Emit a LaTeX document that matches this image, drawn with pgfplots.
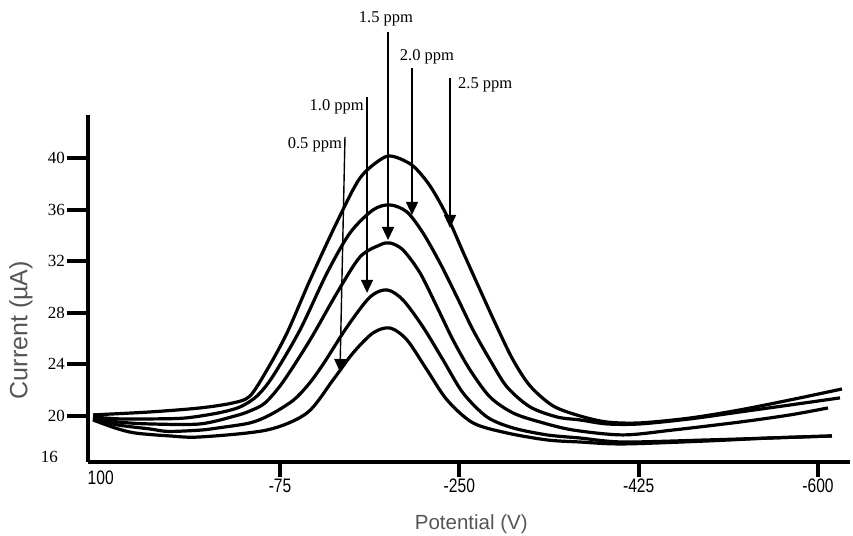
\documentclass[border=0pt]{standalone}
\usepackage{fontspec}
\usepackage{pgfplots}
\pgfplotsset{compat=1.18}
\usetikzlibrary{arrows.meta}
\setmainfont{Liberation Serif}
\newfontfamily\lsans{Liberation Sans}
\newfontfamily\nsans[FakeStretch=0.8]{Liberation Sans}
\definecolor{labgray}{HTML}{555555}

\begin{document}
\begin{tikzpicture}
\useasboundingbox (-88bp,-74bp) rectangle (765bp,462bp);
\begin{axis}[
  at={(0,0)}, anchor=south west,
  scale only axis, width=762bp, height=347bp,
  x dir=reverse,
  xmin=-631.2, xmax=112.4, ymin=16.43, ymax=43.33,
  axis x line*=bottom, axis y line*=left,
  axis line style={line width=3.4bp,-},
  clip=false,
  tick align=outside,
  major tick length=15bp,
  /pgf/number format/assume math mode=true,
  xtick={-75,-250,-425,-600},
  xtick style={draw=black,line width=4bp},
  extra x ticks={100},
  extra x tick style={major tick length=0bp, xtick style={draw=none},
    xticklabel style={yshift=-7bp}},
  xticklabel style={font=\nsans\fontsize{19.5bp}{22bp}\selectfont, inner sep=2bp},
  ytick=\empty,
  extra y ticks={20,24,28,32,36,40},
  extra y tick style={major tick length=21bp, ytick style={draw=black,line width=4bp}},
  yticklabel style={font=\fontsize{17bp}{20bp}\selectfont, inner sep=2bp},
  xlabel={Potential (V)},
  ylabel={Current (\textmu A)},
  every axis x label/.style={at={(axis description cs:0.503,-0.178)}, anchor=center,
    font=\lsans\fontsize{20.5bp}{24bp}\selectfont, text=labgray},
  every axis y label/.style={at={(axis description cs:-0.088,0.38)}, anchor=center, rotate=90,
    font=\lsans\fontsize{25bp}{28bp}\selectfont, text=labgray},
]
% 2.5 ppm
\addplot[smooth, black, line width=3.2bp] coordinates {
(107.5,20.08) (51.9,20.31) (3.1,20.62) (-29.1,21.01) (-45.7,21.55) (-62.3,23.57)
(-81.8,26.43) (-104.3,30.54) (-130.6,35.04) (-153.1,38.45) (-175.5,40.0) (-187.2,40.08)
(-204.8,39.38) (-221.4,37.83) (-238.0,35.50) (-253.6,32.71) (-270.2,29.77) (-286.7,26.90)
(-302.4,24.34) (-319.0,22.33) (-341.4,20.78) (-367.7,20.0) (-394.1,19.53) (-426.3,19.46)
(-475.1,19.84) (-523.9,20.47) (-572.7,21.24) (-623.4,22.09)};
% 2.0 ppm
\addplot[smooth, black, line width=3.2bp] coordinates {
(107.5,19.92) (81.1,19.77) (49.9,19.77) (17.7,19.84) (-14.5,20.23) (-36.0,20.70)
(-52.6,21.55) (-68.2,23.10) (-94.5,26.67) (-120.9,31.09) (-143.3,34.19) (-165.7,35.97)
(-182.3,36.36) (-198.9,35.81) (-214.5,34.19) (-231.1,31.86) (-247.7,29.22) (-263.3,26.67)
(-279.9,24.34) (-296.5,22.25) (-319.0,20.70) (-345.3,19.92) (-367.7,19.69) (-394.1,19.38)
(-426.3,19.38) (-475.1,19.77) (-523.9,20.31) (-572.7,20.85) (-621.4,21.40)};
% 1.5 ppm
\addplot[smooth, black, line width=3.2bp] coordinates {
(107.5,19.84) (83.1,19.53) (51.9,19.38) (3.1,19.38) (-31.1,20.0) (-45.7,20.39)
(-60.4,21.01) (-77.9,22.64) (-104.3,25.89) (-130.6,29.54) (-153.1,32.33) (-172.6,33.26)
(-182.3,33.41) (-195.0,32.87) (-211.6,31.09) (-228.2,28.45) (-243.8,25.89) (-260.4,23.57)
(-279.9,21.47) (-302.4,20.23) (-328.7,19.53) (-360.9,18.91) (-409.7,18.53) (-458.5,18.91)
(-523.9,19.53) (-572.7,20.08) (-609.7,20.62)};
% 1.0 ppm
\addplot[smooth, black, line width=3.2bp] coordinates {
(107.5,19.77) (83.1,19.30) (51.9,18.99) (34.3,18.80) (3.1,18.90) (-14.5,19.07)
(-45.7,19.46) (-65.2,20.08) (-87.7,21.20) (-102.3,22.40) (-117.0,24.00) (-140.4,26.90) (-162.8,29.22)
(-179.4,29.77) (-195.0,28.99) (-214.5,26.90) (-234.1,24.34) (-253.6,21.78) (-277.0,19.92)
(-302.4,19.07) (-335.5,18.53) (-367.7,18.29) (-409.7,17.98) (-491.7,18.14) (-553.1,18.29)
(-613.6,18.45)};
% 0.5 ppm
\addplot[smooth, black, line width=3.2bp] coordinates {
(107.5,19.69) (86.0,19.07) (66.5,18.68) (32.3,18.45) (3.1,18.37) (-62.3,18.91)
(-101.3,20.23) (-126.7,22.79) (-146.2,24.88) (-165.7,26.43) (-182.3,26.82) (-198.9,25.89)
(-218.4,23.57) (-238.0,21.24) (-263.3,19.46) (-296.5,18.68) (-335.5,18.14) (-367.7,17.98)
(-409.7,17.83) (-491.7,18.06) (-553.1,18.29) (-613.6,18.45)};

% y tick label at the corner
\node[anchor=east, font=\fontsize{17bp}{20bp}\selectfont, inner sep=0pt]
  at (axis cs:112.4,16.8) [xshift=-30bp] {16};

% annotation arrows
\tikzset{ann/.style={-{Triangle[length=13bp,width=12bp]}, line width=1.4bp, black}}
\draw[ann] (axis cs:-138.4,41.63) -- (axis cs:-133.5,23.41);
\draw[ann] (axis cs:-159.9,44.73) -- (axis cs:-159.9,29.54);
\draw[ann] (axis cs:-180.4,49.77) -- (axis cs:-180.4,33.64);
\draw[ann] (axis cs:-203.8,46.98) -- (axis cs:-203.8,35.58);
\draw[ann] (axis cs:-240.9,46.20) -- (axis cs:-240.9,34.57);
\tikzset{annt/.style={font=\fontsize{16.5bp}{19bp}\selectfont, inner sep=1bp}}
\node[annt, anchor=east] at (axis cs:-136.5,41.0) {0.5 ppm};
\node[annt, anchor=east] at (axis cs:-157.9,43.95) {1.0 ppm};
\node[annt, anchor=center] at (axis cs:-178.4,50.78) {1.5 ppm};
\node[annt, anchor=center] at (axis cs:-218.4,47.83) {2.0 ppm};
\node[annt, anchor=west] at (axis cs:-247.7,45.66) {2.5 ppm};
\end{axis}
\end{tikzpicture}
\end{document}
